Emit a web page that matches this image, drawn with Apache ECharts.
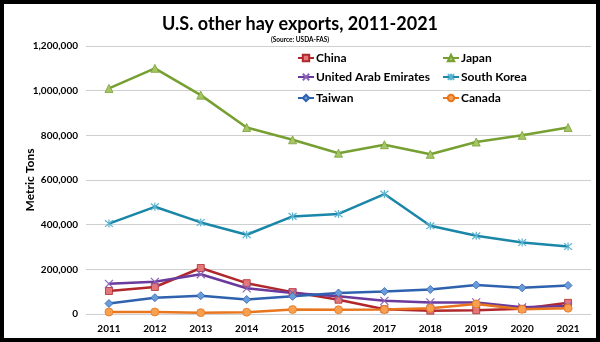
<!DOCTYPE html>
<html><head><meta charset="utf-8">
<script src="https://cdn.jsdelivr.net/npm/echarts@6/dist/echarts.min.js"></script>
<style>html,body{margin:0;padding:0;background:#fff}#c{width:600px;height:342px}</style>
</head><body><div id="c"></div>
<script>
const years = ['2011','2012','2013','2014','2015','2016','2017','2018','2019','2020','2021'];
const china = [103000,121000,206000,138000,98000,64000,21000,15000,17000,23000,50000];
const japan = [1010000,1100000,980000,835000,780000,720000,758000,715000,770000,800000,835000];
const uae = [135000,144000,178000,115000,94000,80000,59000,52000,52000,30000,36000];
const southKorea = [405000,480000,410000,355000,437000,448000,537000,395000,350000,320000,302000];
const taiwan = [47000,73000,82000,65000,79000,94000,101000,110000,130000,117000,128000];
const canada = [9000,9000,6000,8000,20000,19000,20000,26000,45000,21000,26000];
const yTicks = [0,200000,400000,600000,800000,1000000,1200000];

const F = 'Lato, "Open Sans", sans-serif';
const xSym = 'path://M0,0L10,10M10,0L0,10';
const starSym = 'path://M0,0L10,10M10,0L0,10M5,-1L5,11';
function ser(name, data, color, fill, symbol, size, stroke) {
  return {
    name, type: 'line', data, symbol, symbolSize: size,
    lineStyle: {color, width: 2.5},
    itemStyle: stroke ? {color: 'none', borderColor: fill, borderWidth: 1.2} : {color: fill, borderColor: color, borderWidth: 0.8},
    emphasis: {disabled: true}
  };
}
const series = [
  ser('China', china, '#B0282C', '#E2787A', 'rect', 7),
  ser('Japan', japan, '#77A033', '#A6C564', 'triangle', 8),
  ser('United Arab Emirates', uae, '#6A3A9C', '#8A63B8', xSym, 8, true),
  ser('South Korea', southKorea, '#1A86A8', '#5BB3CF', starSym, 8, true),
  ser('Taiwan', taiwan, '#2E62AE', '#6A9BDB', 'diamond', 8),
  ser('Canada', canada, '#E8761E', '#F7A050', 'circle', 8)
];
const legendPos = [[292,47],[437,47],[292,66],[437,66],[292,87],[437,87]];
const legends = series.map((s,i) => ({
  data: [s.name], left: legendPos[i][0], top: legendPos[i][1],
  itemWidth: 16, itemHeight: 8, itemGap: 2,
  textStyle: {fontFamily: F, fontWeight: 'bold', fontSize: 12, color: '#000', padding: [0,0,0,-3]}
}));
const chart = echarts.init(document.getElementById('c'), null, {renderer: 'canvas'});
chart.setOption({
  animation: false,
  backgroundColor: '#fff',
  title: [
    {text: 'U.S. other hay exports, 2011-2021', left: 'center', top: 10,
     textStyle: {fontFamily: F, fontWeight: 'bold', fontSize: 18, color: '#000'}},
    {text: '(Source: USDA-FAS)', left: 'center', top: 31,
     textStyle: {fontFamily: F, fontWeight: 'bold', fontSize: 6.5, color: '#000'}}
  ],
  legend: legends,
  grid: {left: 86, right: 9, top: 46, bottom: 28},
  xAxis: {
    type: 'category', data: years, boundaryGap: true,
    axisLine: {show: false}, axisTick: {show: false},
    axisLabel: {fontFamily: F, fontWeight: 'bold', fontSize: 10, color: '#000', margin: 10}
  },
  yAxis: {
    type: 'value', min: yTicks[0], max: yTicks[yTicks.length-1], interval: 200000,
    axisLine: {show: false}, axisTick: {show: false},
    splitLine: {lineStyle: {color: '#CFCFCF', width: 1}},
    axisLabel: {fontFamily: F, fontWeight: 'bold', fontSize: 10, color: '#000', margin: 8,
      formatter: v => v.toLocaleString('en-US')}
  },
  series,
  graphic: [
    {type: 'text', x: 30, y: 180, rotation: Math.PI / 2, silent: true,
     style: {text: 'Metric Tons', fontFamily: F, fontWeight: 'bold', fontSize: 12, fill: '#000',
       align: 'center', verticalAlign: 'middle'}},
    {type: 'rect', shape: {x: 2, y: 2, width: 596, height: 338},
     style: {fill: 'none', stroke: '#000', lineWidth: 4}, silent: true}
  ]
});
</script></body></html>
